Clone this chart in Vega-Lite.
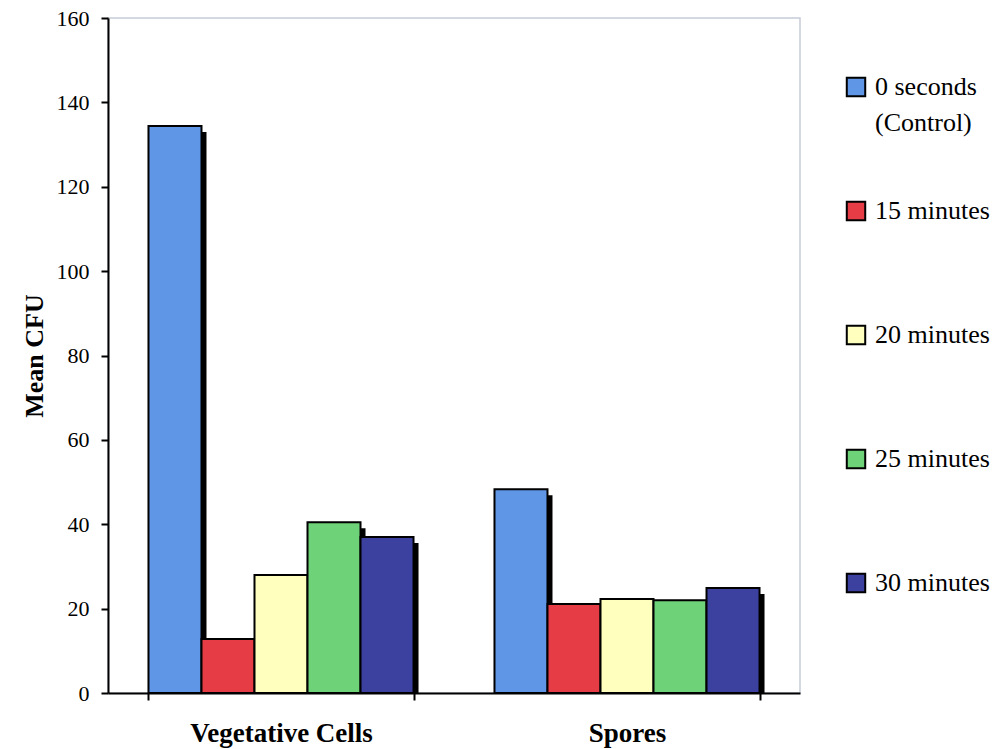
{
  "$schema": "https://vega.github.io/schema/vega-lite/v6.json",
  "autosize": {"type": "none"},
  "width": 692,
  "height": 675,
  "padding": {"left": 108, "top": 18, "right": 200, "bottom": 56},
  "background": "white",
  "config": {
    "view": {"stroke": "#c5ccd8", "strokeWidth": 1.5},
    "font": "Liberation Serif"
  },
  "data": {
    "values": [
      {"group": "Vegetative Cells", "time": "0 seconds (Control)", "cfu": 134.4},
      {"group": "Vegetative Cells", "time": "15 minutes", "cfu": 12.8},
      {"group": "Vegetative Cells", "time": "20 minutes", "cfu": 28.0},
      {"group": "Vegetative Cells", "time": "25 minutes", "cfu": 40.5},
      {"group": "Vegetative Cells", "time": "30 minutes", "cfu": 37.0},
      {"group": "Spores", "time": "0 seconds (Control)", "cfu": 48.3},
      {"group": "Spores", "time": "15 minutes", "cfu": 21.1},
      {"group": "Spores", "time": "20 minutes", "cfu": 22.3},
      {"group": "Spores", "time": "25 minutes", "cfu": 22.0},
      {"group": "Spores", "time": "30 minutes", "cfu": 24.9}
    ]
  },
  "encoding": {
    "x": {
      "field": "group",
      "type": "nominal",
      "sort": ["Vegetative Cells", "Spores"],
      "scale": {"paddingInner": 0.234, "paddingOuter": 0.117},
      "axis": {
        "title": null,
        "labelAngle": 0,
        "labelFont": "Liberation Serif",
        "labelFontWeight": "bold",
        "labelFontSize": 27,
        "labelColor": "black",
        "labelLimit": 400,
        "labelPadding": 20,
        "domainColor": "black",
        "domainWidth": 2,
        "tickColor": "black",
        "tickWidth": 2,
        "tickSize": 7,
        "tickBand": "extent"
      }
    },
    "y": {
      "field": "cfu",
      "type": "quantitative",
      "stack": null,
      "scale": {"domain": [0, 160], "nice": false},
      "axis": {
        "title": "Mean CFU",
        "values": [0, 20, 40, 60, 80, 100, 120, 140, 160],
        "grid": false,
        "labelFont": "Liberation Serif",
        "labelFontSize": 22,
        "labelColor": "black",
        "labelPadding": 12,
        "titleFont": "Liberation Serif",
        "titleFontWeight": "bold",
        "titleFontSize": 26,
        "titleColor": "black",
        "titlePadding": 9,
        "domainColor": "black",
        "domainWidth": 2,
        "tickColor": "black",
        "tickWidth": 2,
        "tickSize": 7
      }
    }
  },
  "layer": [
    {
      "mark": {"type": "bar", "color": "black", "yOffset": 6, "clip": true},
      "encoding": {
        "xOffset": {
          "field": "time",
          "type": "nominal",
          "sort": ["0 seconds (Control)", "15 minutes", "20 minutes", "25 minutes", "30 minutes"],
          "scale": {"paddingInner": 0, "paddingOuter": 0, "range": [5, 270.04]}
        }
      }
    },
    {
      "mark": {"type": "bar", "stroke": "black", "strokeWidth": 2, "opacity": 1},
      "encoding": {
        "xOffset": {
          "field": "time",
          "type": "nominal",
          "sort": ["0 seconds (Control)", "15 minutes", "20 minutes", "25 minutes", "30 minutes"],
          "scale": {"paddingInner": 0, "paddingOuter": 0}
        },
        "color": {
          "field": "time",
          "type": "nominal",
          "sort": ["0 seconds (Control)", "15 minutes", "20 minutes", "25 minutes", "30 minutes"],
          "scale": {
            "domain": ["0 seconds (Control)", "15 minutes", "20 minutes", "25 minutes", "30 minutes"],
            "range": ["#5f96e6", "#e63c46", "#ffffbe", "#6ed278", "#3c41a0"]
          },
          "legend": {
            "title": null,
            "orient": "none",
            "legendX": 735,
            "legendY": 56,
            "padding": 0,
            "symbolType": "square",
            "symbolSize": 340,
            "symbolStrokeColor": "black",
            "symbolStrokeWidth": 2,
            "symbolOpacity": 1,
            "labelFont": "Liberation Serif",
            "labelFontSize": 26,
            "labelColor": "black",
            "labelLimit": 300,
            "labelOffset": 6,
            "gridAlign": "all",
            "rowPadding": 61,
            "labelExpr": "datum.label == '0 seconds (Control)' ? ['0 seconds', '(Control)'] : datum.label",
            "encode": {"labels": {"update": {"lineHeight": {"value": 36}}}}
          }
        }
      }
    }
  ],
  "resolve": {"scale": {"xOffset": "independent"}}
}
